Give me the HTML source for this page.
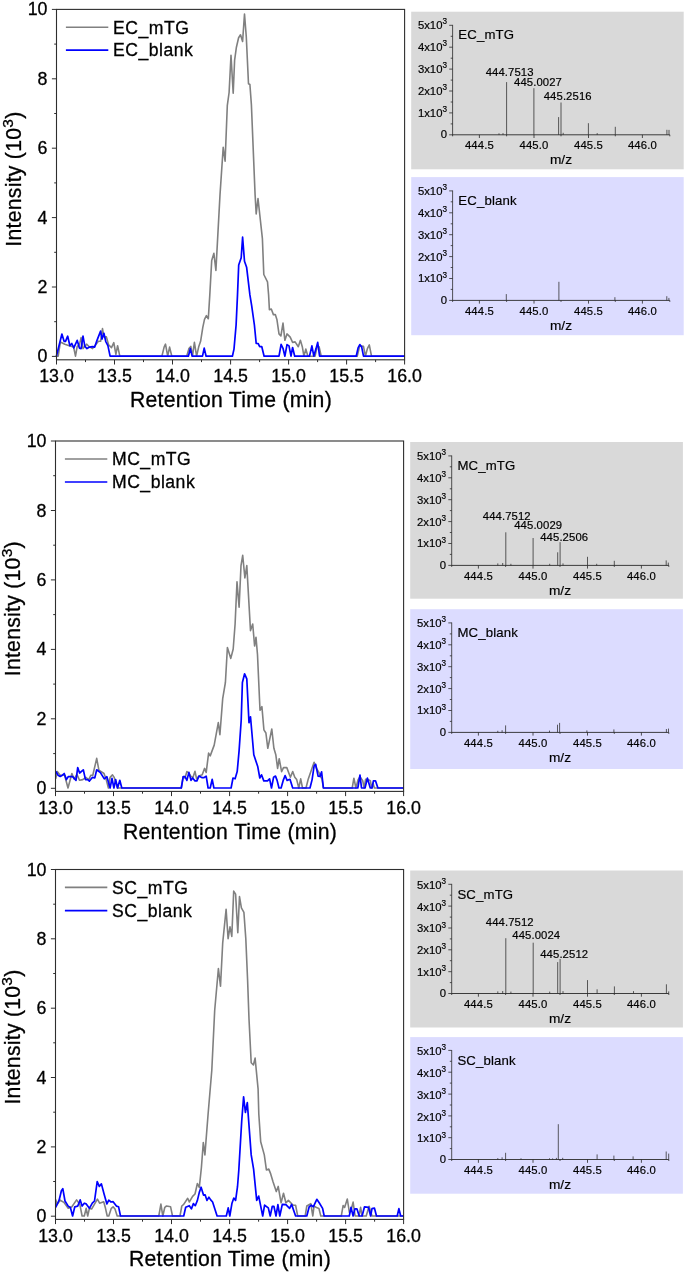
<!DOCTYPE html>
<html><head><meta charset="utf-8"><title>chart</title>
<style>
html,body{margin:0;padding:0;background:#fff;}
body{width:685px;height:1273px;overflow:hidden;}
svg{display:block;will-change:transform;}
svg text{font-family:"Liberation Sans", sans-serif;fill:#000;stroke:#000;stroke-width:0.3px;}
svg text.s{stroke-width:0.18px;}
</style></head><body>
<svg width="685" height="1273" viewBox="0 0 685 1273">
<rect x="0" y="0" width="685" height="1273" fill="#ffffff"/>
<polyline points="56.4,356.2 58.2,356.2 60.4,342.0 64.8,344.2 69.2,345.7 73.6,347.1 75.5,356.2 77.2,346.4 79.4,344.9 81.1,337.6 83.0,348.6 86.7,344.2 88.9,346.4 92.5,348.6 95.5,344.9 98.4,341.3 100.6,341.3 102.5,328.6 103.9,336.9 106.4,336.9 108.6,344.9 111.5,347.6 113.8,342.7 115.9,354.4 117.6,345.7 119.8,356.2 161.9,356.2 164.1,347.1 165.5,344.2 167.7,356.2 169.6,347.1 171.8,356.2 186.7,356.2 188.9,348.6 190.8,346.4 192.5,356.2 194.4,342.3 196.6,356.2 198.8,346.4 200.6,341.3 202.8,327.4 204.5,319.4 206.4,315.7 208.3,318.7 209.8,294.9 211.7,260.6 213.9,253.3 215.9,270.5 220.0,194.9 223.2,147.3 225.1,161.2 227.3,105.7 229.1,92.5 231.0,55.3 233.2,93.2 234.6,60.4 236.4,47.2 238.6,37.7 240.5,34.8 242.6,41.4 244.5,14.0 246.3,37.0 248.5,83.7 249.9,84.5 251.4,104.9 255.1,194.9 256.2,213.9 258.0,198.5 262.4,238.7 263.8,274.5 267.5,281.8 268.6,294.9 269.4,309.8 271.3,309.0 273.4,314.6 275.3,314.6 276.9,319.4 279.0,333.9 280.9,336.0 283.0,323.1 284.9,340.3 287.0,333.9 290.2,337.1 292.6,342.4 295.1,341.9 298.3,346.7 300.4,340.3 302.3,346.7 303.9,356.2 305.8,349.1 307.9,356.2 315.1,356.2 317.1,346.7 319.1,346.7 321.2,356.2 357.2,356.2 359.7,345.9 363.5,346.4 365.4,356.2 367.4,348.6 369.3,344.9 371.5,356.2 405.0,356.2" fill="none" stroke="#808080" stroke-width="1.6" stroke-linejoin="round" stroke-linecap="butt"/>
<polyline points="56.4,356.2 61.9,334.0 64.1,341.3 65.5,341.3 67.7,336.2 69.9,345.7 71.8,343.5 73.8,347.9 77.2,340.3 79.4,348.1 81.1,348.6 83.0,336.2 84.9,346.4 87.0,348.6 89.6,347.1 92.5,346.7 94.7,347.1 96.9,340.6 100.6,331.1 102.0,339.1 103.9,333.3 105.7,341.3 107.9,345.7 110.1,356.2 188.4,356.2 190.3,348.6 192.2,356.2 202.5,356.2 204.2,348.1 206.1,356.2 232.4,356.2 234.0,349.1 236.1,325.0 237.5,294.9 238.7,265.0 241.2,257.7 242.6,237.2 244.5,261.3 246.6,267.2 249.9,294.9 251.7,305.8 254.4,325.0 256.2,343.5 258.1,343.5 259.7,346.7 261.8,346.7 264.1,356.2 279.0,356.2 281.1,344.3 283.0,348.3 284.9,356.2 287.0,344.6 289.0,345.9 291.0,356.2 292.6,347.5 294.7,356.2 309.5,356.2 311.9,345.9 313.8,356.2 315.9,349.1 317.7,342.4 319.6,356.2 356.2,356.2 358.1,347.9 359.8,344.6 361.7,347.1 363.5,356.2 405.0,356.2" fill="none" stroke="#0000ff" stroke-width="1.7" stroke-linejoin="round" stroke-linecap="butt"/>
<rect x="56.5" y="9.4" width="348.1" height="350.4" fill="none" stroke="#2e2e2e" stroke-width="1.1"/>
<line x1="51.9" y1="356.4" x2="56.5" y2="356.4" stroke="#2e2e2e" stroke-width="1"/>
<text x="47.5" y="362.4" font-size="17.8" text-anchor="end">0</text>
<line x1="54.2" y1="321.7" x2="56.5" y2="321.7" stroke="#2e2e2e" stroke-width="1"/>
<line x1="51.9" y1="287.0" x2="56.5" y2="287.0" stroke="#2e2e2e" stroke-width="1"/>
<text x="47.5" y="293.0" font-size="17.8" text-anchor="end">2</text>
<line x1="54.2" y1="252.3" x2="56.5" y2="252.3" stroke="#2e2e2e" stroke-width="1"/>
<line x1="51.9" y1="217.6" x2="56.5" y2="217.6" stroke="#2e2e2e" stroke-width="1"/>
<text x="47.5" y="223.6" font-size="17.8" text-anchor="end">4</text>
<line x1="54.2" y1="182.9" x2="56.5" y2="182.9" stroke="#2e2e2e" stroke-width="1"/>
<line x1="51.9" y1="148.2" x2="56.5" y2="148.2" stroke="#2e2e2e" stroke-width="1"/>
<text x="47.5" y="154.2" font-size="17.8" text-anchor="end">6</text>
<line x1="54.2" y1="113.5" x2="56.5" y2="113.5" stroke="#2e2e2e" stroke-width="1"/>
<line x1="51.9" y1="78.8" x2="56.5" y2="78.8" stroke="#2e2e2e" stroke-width="1"/>
<text x="47.5" y="84.8" font-size="17.8" text-anchor="end">8</text>
<line x1="54.2" y1="44.1" x2="56.5" y2="44.1" stroke="#2e2e2e" stroke-width="1"/>
<line x1="51.9" y1="9.4" x2="56.5" y2="9.4" stroke="#2e2e2e" stroke-width="1"/>
<text x="47.5" y="15.4" font-size="17.8" text-anchor="end">10</text>
<line x1="56.5" y1="359.8" x2="56.5" y2="364.5" stroke="#2e2e2e" stroke-width="1"/>
<text x="56.5" y="382.1" font-size="17.8" text-anchor="middle">13.0</text>
<line x1="85.5" y1="359.8" x2="85.5" y2="362.1" stroke="#2e2e2e" stroke-width="1"/>
<line x1="114.5" y1="359.8" x2="114.5" y2="364.5" stroke="#2e2e2e" stroke-width="1"/>
<text x="114.5" y="382.1" font-size="17.8" text-anchor="middle">13.5</text>
<line x1="143.5" y1="359.8" x2="143.5" y2="362.1" stroke="#2e2e2e" stroke-width="1"/>
<line x1="172.5" y1="359.8" x2="172.5" y2="364.5" stroke="#2e2e2e" stroke-width="1"/>
<text x="172.5" y="382.1" font-size="17.8" text-anchor="middle">14.0</text>
<line x1="201.5" y1="359.8" x2="201.5" y2="362.1" stroke="#2e2e2e" stroke-width="1"/>
<line x1="230.6" y1="359.8" x2="230.6" y2="364.5" stroke="#2e2e2e" stroke-width="1"/>
<text x="230.6" y="382.1" font-size="17.8" text-anchor="middle">14.5</text>
<line x1="259.6" y1="359.8" x2="259.6" y2="362.1" stroke="#2e2e2e" stroke-width="1"/>
<line x1="288.6" y1="359.8" x2="288.6" y2="364.5" stroke="#2e2e2e" stroke-width="1"/>
<text x="288.6" y="382.1" font-size="17.8" text-anchor="middle">15.0</text>
<line x1="317.6" y1="359.8" x2="317.6" y2="362.1" stroke="#2e2e2e" stroke-width="1"/>
<line x1="346.6" y1="359.8" x2="346.6" y2="364.5" stroke="#2e2e2e" stroke-width="1"/>
<text x="346.6" y="382.1" font-size="17.8" text-anchor="middle">15.5</text>
<line x1="375.6" y1="359.8" x2="375.6" y2="362.1" stroke="#2e2e2e" stroke-width="1"/>
<line x1="404.6" y1="359.8" x2="404.6" y2="364.5" stroke="#2e2e2e" stroke-width="1"/>
<text x="404.6" y="382.1" font-size="17.8" text-anchor="middle">16.0</text>
<text x="231.0" y="406.8" font-size="21.2" letter-spacing="0.27" text-anchor="middle">Retention Time (min)</text>
<text transform="translate(20.9,179.1) rotate(-90)" font-size="21.2" letter-spacing="0.27" text-anchor="middle">Intensity (10<tspan font-size="15.5" dy="-8.3">3</tspan><tspan dy="8.3">)</tspan></text>
<line x1="65.9" y1="27.2" x2="108.3" y2="27.2" stroke="#808080" stroke-width="1.6"/>
<line x1="65.9" y1="50.2" x2="108.3" y2="50.2" stroke="#0000ff" stroke-width="1.7"/>
<text x="113.0" y="33.6" font-size="17.6" letter-spacing="0.5">EC_mTG</text>
<text x="113.0" y="56.1" font-size="17.6" letter-spacing="0.5">EC_blank</text>
<polyline points="55.7,778.9 57.3,771.6 60.2,775.2 64.6,775.2 68.0,788.0 71.9,773.5 74.1,778.9 77.0,774.5 79.6,780.3 82.8,779.6 85.8,777.4 88.7,779.6 90.9,775.2 92.8,775.2 96.7,758.4 98.9,770.1 104.0,773.5 106.2,779.6 108.4,788.0 110.1,777.4 112.5,774.9 114.2,777.4 117.4,788.0 181.3,788.0 183.2,776.7 185.0,778.0 186.9,771.6 188.9,773.2 191.0,776.4 193.0,777.2 195.0,771.3 196.6,778.8 199.0,776.1 202.2,774.8 204.6,768.4 206.2,772.4 208.6,753.1 210.2,755.9 214.2,745.1 218.3,722.6 219.9,734.7 222.7,698.6 225.4,682.5 227.4,647.5 230.8,658.4 233.2,649.0 235.1,624.0 237.0,581.7 239.1,607.2 241.0,565.6 242.7,555.4 244.9,578.0 246.8,565.6 250.5,630.6 252.7,624.0 254.6,646.0 256.0,637.2 257.5,654.8 260.0,710.3 261.9,706.6 263.9,729.8 265.9,733.0 267.8,748.3 271.8,729.0 273.9,748.3 275.8,754.7 277.6,768.4 279.2,758.7 281.6,771.6 283.5,767.6 286.8,767.6 290.4,777.2 292.7,771.6 294.8,777.2 296.7,779.6 298.8,788.0 300.7,778.8 302.5,788.0 306.0,788.0 308.1,779.6 314.1,762.3 316.5,768.4 318.9,772.4 320.5,776.4 322.0,779.2 323.4,788.0 352.2,788.0 353.9,778.2 355.9,788.0 358.0,780.0 360.0,776.7 362.7,780.6 364.1,788.0 365.6,779.4 367.4,779.2 370.3,780.6 371.8,788.0 373.0,783.2 374.4,788.0 403.7,788.0" fill="none" stroke="#808080" stroke-width="1.6" stroke-linejoin="round" stroke-linecap="butt"/>
<polyline points="55.7,771.1 58.0,775.2 60.2,776.4 62.4,775.2 64.2,773.5 66.4,779.6 68.2,776.7 72.6,776.7 76.0,780.3 77.7,767.6 79.6,773.0 83.3,769.8 85.5,779.6 87.7,779.6 89.4,781.1 92.3,777.4 94.8,777.9 96.7,769.8 100.4,772.6 104.3,778.9 106.9,776.7 110.1,788.0 112.0,778.4 113.9,788.0 115.7,779.6 117.6,788.0 119.8,780.3 121.8,788.0 181.3,788.0 183.2,776.7 185.0,776.7 186.9,780.4 188.9,772.4 191.0,780.4 192.6,778.0 195.0,780.9 196.9,780.9 199.0,776.1 202.2,777.7 203.8,777.7 206.2,776.1 208.1,788.0 210.2,788.0 212.2,779.3 213.9,788.0 231.1,788.0 233.0,778.0 235.1,778.8 237.2,771.6 239.1,750.7 241.2,720.2 242.4,682.5 244.6,673.8 246.8,678.9 249.0,722.7 250.5,716.8 253.8,754.7 257.8,766.8 259.8,778.0 261.5,774.8 263.8,780.9 267.5,780.9 269.6,778.8 271.5,788.0 273.6,777.2 275.5,776.1 277.1,780.4 279.0,788.0 281.1,788.0 283.2,780.4 285.1,775.6 287.1,780.4 290.0,779.3 292.7,788.0 310.0,788.0 312.1,779.6 314.1,766.0 315.7,764.4 318.1,776.1 320.0,776.4 321.6,771.9 323.4,788.0 357.8,788.0 360.0,775.0 361.5,788.0 365.0,788.0 367.4,778.2 370.3,788.0 372.0,788.0 373.4,780.8 375.5,780.8 377.9,788.0 403.7,788.0" fill="none" stroke="#0000ff" stroke-width="1.7" stroke-linejoin="round" stroke-linecap="butt"/>
<rect x="55.5" y="441.0" width="348.1" height="350.4" fill="none" stroke="#2e2e2e" stroke-width="1.1"/>
<line x1="50.9" y1="788.3" x2="55.5" y2="788.3" stroke="#2e2e2e" stroke-width="1"/>
<text x="46.5" y="794.3" font-size="17.8" text-anchor="end">0</text>
<line x1="53.2" y1="753.6" x2="55.5" y2="753.6" stroke="#2e2e2e" stroke-width="1"/>
<line x1="50.9" y1="718.8" x2="55.5" y2="718.8" stroke="#2e2e2e" stroke-width="1"/>
<text x="46.5" y="724.8" font-size="17.8" text-anchor="end">2</text>
<line x1="53.2" y1="684.1" x2="55.5" y2="684.1" stroke="#2e2e2e" stroke-width="1"/>
<line x1="50.9" y1="649.4" x2="55.5" y2="649.4" stroke="#2e2e2e" stroke-width="1"/>
<text x="46.5" y="655.4" font-size="17.8" text-anchor="end">4</text>
<line x1="53.2" y1="614.6" x2="55.5" y2="614.6" stroke="#2e2e2e" stroke-width="1"/>
<line x1="50.9" y1="579.9" x2="55.5" y2="579.9" stroke="#2e2e2e" stroke-width="1"/>
<text x="46.5" y="585.9" font-size="17.8" text-anchor="end">6</text>
<line x1="53.2" y1="545.2" x2="55.5" y2="545.2" stroke="#2e2e2e" stroke-width="1"/>
<line x1="50.9" y1="510.5" x2="55.5" y2="510.5" stroke="#2e2e2e" stroke-width="1"/>
<text x="46.5" y="516.5" font-size="17.8" text-anchor="end">8</text>
<line x1="53.2" y1="475.7" x2="55.5" y2="475.7" stroke="#2e2e2e" stroke-width="1"/>
<line x1="50.9" y1="441.0" x2="55.5" y2="441.0" stroke="#2e2e2e" stroke-width="1"/>
<text x="46.5" y="447.0" font-size="17.8" text-anchor="end">10</text>
<line x1="55.5" y1="791.4" x2="55.5" y2="796.1" stroke="#2e2e2e" stroke-width="1"/>
<text x="55.5" y="813.7" font-size="17.8" text-anchor="middle">13.0</text>
<line x1="84.5" y1="791.4" x2="84.5" y2="793.7" stroke="#2e2e2e" stroke-width="1"/>
<line x1="113.5" y1="791.4" x2="113.5" y2="796.1" stroke="#2e2e2e" stroke-width="1"/>
<text x="113.5" y="813.7" font-size="17.8" text-anchor="middle">13.5</text>
<line x1="142.5" y1="791.4" x2="142.5" y2="793.7" stroke="#2e2e2e" stroke-width="1"/>
<line x1="171.5" y1="791.4" x2="171.5" y2="796.1" stroke="#2e2e2e" stroke-width="1"/>
<text x="171.5" y="813.7" font-size="17.8" text-anchor="middle">14.0</text>
<line x1="200.5" y1="791.4" x2="200.5" y2="793.7" stroke="#2e2e2e" stroke-width="1"/>
<line x1="229.6" y1="791.4" x2="229.6" y2="796.1" stroke="#2e2e2e" stroke-width="1"/>
<text x="229.6" y="813.7" font-size="17.8" text-anchor="middle">14.5</text>
<line x1="258.6" y1="791.4" x2="258.6" y2="793.7" stroke="#2e2e2e" stroke-width="1"/>
<line x1="287.6" y1="791.4" x2="287.6" y2="796.1" stroke="#2e2e2e" stroke-width="1"/>
<text x="287.6" y="813.7" font-size="17.8" text-anchor="middle">15.0</text>
<line x1="316.6" y1="791.4" x2="316.6" y2="793.7" stroke="#2e2e2e" stroke-width="1"/>
<line x1="345.6" y1="791.4" x2="345.6" y2="796.1" stroke="#2e2e2e" stroke-width="1"/>
<text x="345.6" y="813.7" font-size="17.8" text-anchor="middle">15.5</text>
<line x1="374.6" y1="791.4" x2="374.6" y2="793.7" stroke="#2e2e2e" stroke-width="1"/>
<line x1="403.6" y1="791.4" x2="403.6" y2="796.1" stroke="#2e2e2e" stroke-width="1"/>
<text x="403.6" y="813.7" font-size="17.8" text-anchor="middle">16.0</text>
<text x="230.0" y="839.4" font-size="21.2" letter-spacing="0.27" text-anchor="middle">Rentention Time (min)</text>
<text transform="translate(20.4,608.7) rotate(-90)" font-size="21.2" letter-spacing="0.27" text-anchor="middle">Intensity (10<tspan font-size="15.5" dy="-8.3">3</tspan><tspan dy="8.3">)</tspan></text>
<line x1="64.9" y1="459.0" x2="107.3" y2="459.0" stroke="#808080" stroke-width="1.6"/>
<line x1="64.9" y1="482.0" x2="107.3" y2="482.0" stroke="#0000ff" stroke-width="1.7"/>
<text x="112.0" y="465.4" font-size="17.6" letter-spacing="0.5">MC_mTG</text>
<text x="112.0" y="487.9" font-size="17.6" letter-spacing="0.5">MC_blank</text>
<polyline points="55.7,1199.5 57.0,1204.6 60.2,1200.2 63.9,1202.4 68.2,1208.3 71.9,1206.8 76.6,1199.9 79.9,1204.6 82.1,1216.0 84.3,1216.0 86.2,1208.3 87.7,1216.0 89.4,1208.3 91.6,1209.0 93.8,1205.3 97.4,1199.1 99.6,1203.2 103.7,1201.7 105.5,1208.3 107.2,1216.0 108.8,1216.0 111.3,1208.3 113.1,1206.8 115.0,1209.0 117.2,1216.0 158.8,1216.0 160.9,1204.1 162.8,1216.0 164.8,1207.3 166.5,1206.0 170.6,1206.8 172.5,1216.0 180.0,1216.0 181.8,1206.0 183.7,1204.4 187.7,1198.3 189.3,1202.0 192.6,1196.4 195.0,1194.0 197.4,1183.5 199.3,1187.5 201.4,1167.5 203.3,1142.5 204.9,1154.9 208.1,1114.0 211.8,1070.2 214.7,1010.2 218.4,968.5 220.5,986.1 222.7,943.0 226.1,909.4 228.1,938.6 230.0,926.9 231.8,936.4 233.7,891.1 235.6,894.1 237.8,932.8 239.5,896.6 241.4,907.9 243.9,912.3 245.8,938.6 247.6,980.2 249.0,1019.0 251.2,1062.8 253.4,1065.0 255.1,1058.1 258.1,1089.2 258.8,1114.0 260.7,1141.7 264.3,1154.9 266.4,1169.9 268.8,1169.1 270.7,1173.9 273.1,1181.9 276.3,1191.6 278.2,1186.4 281.1,1202.8 283.5,1193.2 285.9,1202.8 288.4,1200.4 293.2,1205.2 295.6,1205.2 297.7,1216.0 305.2,1216.0 306.8,1206.0 310.8,1203.6 312.8,1216.0 314.1,1206.0 316.5,1207.6 318.9,1208.4 320.8,1216.0 341.3,1216.0 343.1,1205.6 344.6,1207.4 347.3,1199.0 349.4,1212.5 351.3,1209.3 353.1,1202.1 355.1,1216.0 359.0,1216.0 360.6,1207.4 362.1,1216.0 366.2,1216.0 369.1,1206.2 372.0,1216.0 403.6,1216.0" fill="none" stroke="#808080" stroke-width="1.6" stroke-linejoin="round" stroke-linecap="butt"/>
<polyline points="55.7,1207.5 59.1,1200.2 61.4,1190.7 62.8,1188.6 65.0,1201.0 68.2,1206.1 70.4,1207.5 72.6,1216.0 74.8,1206.8 77.7,1206.1 80.2,1199.9 82.1,1206.1 84.3,1203.2 86.2,1203.9 89.4,1208.3 92.3,1203.2 94.5,1201.0 97.2,1181.6 99.3,1186.4 101.4,1183.9 104.0,1193.7 106.9,1203.9 108.8,1200.2 111.0,1202.0 113.1,1201.7 116.4,1206.1 118.6,1206.8 120.5,1216.0 183.7,1216.0 185.7,1207.3 189.3,1205.7 191.4,1208.9 193.4,1203.6 195.3,1205.7 197.4,1200.4 199.3,1192.4 201.1,1187.2 203.5,1195.1 205.1,1194.8 207.0,1200.4 208.9,1197.2 210.7,1199.9 212.6,1202.0 217.1,1216.0 226.3,1216.0 228.2,1207.9 229.8,1216.0 231.9,1203.6 233.8,1198.0 235.6,1200.4 237.5,1186.7 238.8,1170.2 241.7,1121.3 243.6,1096.8 245.4,1112.5 247.3,1102.6 251.2,1154.9 253.6,1169.1 256.7,1200.4 258.7,1196.1 262.7,1216.0 264.6,1205.2 268.3,1207.9 270.2,1216.0 272.3,1206.3 273.9,1206.3 276.0,1216.0 277.9,1204.7 279.8,1216.0 282.3,1204.4 285.9,1204.7 289.6,1208.4 291.6,1204.4 295.6,1216.0 306.8,1216.0 309.2,1206.8 311.3,1205.2 313.3,1206.8 316.8,1199.3 319.2,1202.8 322.6,1208.4 324.2,1216.0 349.3,1216.0 351.0,1207.4 353.1,1216.0 354.9,1208.8 356.9,1208.8 359.2,1216.0 362.1,1216.0 364.5,1206.8 368.5,1207.4 370.6,1216.0 372.0,1208.6 374.4,1208.0 376.5,1216.0 397.2,1216.0 398.9,1208.6 400.7,1216.0 403.6,1216.0" fill="none" stroke="#0000ff" stroke-width="1.7" stroke-linejoin="round" stroke-linecap="butt"/>
<rect x="55.5" y="869.5" width="348.1" height="349.9" fill="none" stroke="#2e2e2e" stroke-width="1.1"/>
<line x1="50.9" y1="1216.2" x2="55.5" y2="1216.2" stroke="#2e2e2e" stroke-width="1"/>
<text x="46.5" y="1222.2" font-size="17.8" text-anchor="end">0</text>
<line x1="53.2" y1="1181.5" x2="55.5" y2="1181.5" stroke="#2e2e2e" stroke-width="1"/>
<line x1="50.9" y1="1146.9" x2="55.5" y2="1146.9" stroke="#2e2e2e" stroke-width="1"/>
<text x="46.5" y="1152.9" font-size="17.8" text-anchor="end">2</text>
<line x1="53.2" y1="1112.2" x2="55.5" y2="1112.2" stroke="#2e2e2e" stroke-width="1"/>
<line x1="50.9" y1="1077.5" x2="55.5" y2="1077.5" stroke="#2e2e2e" stroke-width="1"/>
<text x="46.5" y="1083.5" font-size="17.8" text-anchor="end">4</text>
<line x1="53.2" y1="1042.8" x2="55.5" y2="1042.8" stroke="#2e2e2e" stroke-width="1"/>
<line x1="50.9" y1="1008.2" x2="55.5" y2="1008.2" stroke="#2e2e2e" stroke-width="1"/>
<text x="46.5" y="1014.2" font-size="17.8" text-anchor="end">6</text>
<line x1="53.2" y1="973.5" x2="55.5" y2="973.5" stroke="#2e2e2e" stroke-width="1"/>
<line x1="50.9" y1="938.8" x2="55.5" y2="938.8" stroke="#2e2e2e" stroke-width="1"/>
<text x="46.5" y="944.8" font-size="17.8" text-anchor="end">8</text>
<line x1="53.2" y1="904.2" x2="55.5" y2="904.2" stroke="#2e2e2e" stroke-width="1"/>
<line x1="50.9" y1="869.5" x2="55.5" y2="869.5" stroke="#2e2e2e" stroke-width="1"/>
<text x="46.5" y="875.5" font-size="17.8" text-anchor="end">10</text>
<line x1="55.5" y1="1219.4" x2="55.5" y2="1224.1" stroke="#2e2e2e" stroke-width="1"/>
<text x="55.5" y="1241.7" font-size="17.8" text-anchor="middle">13.0</text>
<line x1="84.5" y1="1219.4" x2="84.5" y2="1221.7" stroke="#2e2e2e" stroke-width="1"/>
<line x1="113.5" y1="1219.4" x2="113.5" y2="1224.1" stroke="#2e2e2e" stroke-width="1"/>
<text x="113.5" y="1241.7" font-size="17.8" text-anchor="middle">13.5</text>
<line x1="142.5" y1="1219.4" x2="142.5" y2="1221.7" stroke="#2e2e2e" stroke-width="1"/>
<line x1="171.5" y1="1219.4" x2="171.5" y2="1224.1" stroke="#2e2e2e" stroke-width="1"/>
<text x="171.5" y="1241.7" font-size="17.8" text-anchor="middle">14.0</text>
<line x1="200.5" y1="1219.4" x2="200.5" y2="1221.7" stroke="#2e2e2e" stroke-width="1"/>
<line x1="229.6" y1="1219.4" x2="229.6" y2="1224.1" stroke="#2e2e2e" stroke-width="1"/>
<text x="229.6" y="1241.7" font-size="17.8" text-anchor="middle">14.5</text>
<line x1="258.6" y1="1219.4" x2="258.6" y2="1221.7" stroke="#2e2e2e" stroke-width="1"/>
<line x1="287.6" y1="1219.4" x2="287.6" y2="1224.1" stroke="#2e2e2e" stroke-width="1"/>
<text x="287.6" y="1241.7" font-size="17.8" text-anchor="middle">15.0</text>
<line x1="316.6" y1="1219.4" x2="316.6" y2="1221.7" stroke="#2e2e2e" stroke-width="1"/>
<line x1="345.6" y1="1219.4" x2="345.6" y2="1224.1" stroke="#2e2e2e" stroke-width="1"/>
<text x="345.6" y="1241.7" font-size="17.8" text-anchor="middle">15.5</text>
<line x1="374.6" y1="1219.4" x2="374.6" y2="1221.7" stroke="#2e2e2e" stroke-width="1"/>
<line x1="403.6" y1="1219.4" x2="403.6" y2="1224.1" stroke="#2e2e2e" stroke-width="1"/>
<text x="403.6" y="1241.7" font-size="17.8" text-anchor="middle">16.0</text>
<text x="230.0" y="1266.4" font-size="21.2" letter-spacing="0.27" text-anchor="middle">Retention Time (min)</text>
<text transform="translate(20.4,1037.0) rotate(-90)" font-size="21.2" letter-spacing="0.27" text-anchor="middle">Intensity (10<tspan font-size="15.5" dy="-8.3">3</tspan><tspan dy="8.3">)</tspan></text>
<line x1="64.9" y1="887.4" x2="107.3" y2="887.4" stroke="#808080" stroke-width="1.6"/>
<line x1="64.9" y1="910.6" x2="107.3" y2="910.6" stroke="#0000ff" stroke-width="1.7"/>
<text x="112.0" y="893.8" font-size="17.6" letter-spacing="0.5">SC_mTG</text>
<text x="112.0" y="916.5" font-size="17.6" letter-spacing="0.5">SC_blank</text>
<rect x="411.2" y="11.7" width="272.5" height="157.6" fill="#d9d9d9"/>
<line x1="452.6" y1="24.9" x2="452.6" y2="135.2" stroke="#2a2a2a" stroke-width="0.8"/>
<line x1="452.6" y1="134.8" x2="669.8" y2="134.8" stroke="#2a2a2a" stroke-width="0.9"/>
<line x1="449.2" y1="134.8" x2="452.6" y2="134.8" stroke="#2a2a2a" stroke-width="0.8"/>
<text class="s" x="447.0" y="138.0" font-size="11.3" text-anchor="end">0</text>
<line x1="450.7" y1="123.9" x2="452.6" y2="123.9" stroke="#2a2a2a" stroke-width="0.8"/>
<line x1="449.2" y1="112.9" x2="452.6" y2="112.9" stroke="#2a2a2a" stroke-width="0.8"/>
<text class="s" x="447.0" y="116.8" font-size="11.3" text-anchor="end">1x10<tspan font-size="8.2" dy="-4.9">3</tspan></text>
<line x1="450.7" y1="102.0" x2="452.6" y2="102.0" stroke="#2a2a2a" stroke-width="0.8"/>
<line x1="449.2" y1="91.0" x2="452.6" y2="91.0" stroke="#2a2a2a" stroke-width="0.8"/>
<text class="s" x="447.0" y="95.0" font-size="11.3" text-anchor="end">2x10<tspan font-size="8.2" dy="-4.9">3</tspan></text>
<line x1="450.7" y1="80.1" x2="452.6" y2="80.1" stroke="#2a2a2a" stroke-width="0.8"/>
<line x1="449.2" y1="69.1" x2="452.6" y2="69.1" stroke="#2a2a2a" stroke-width="0.8"/>
<text class="s" x="447.0" y="73.0" font-size="11.3" text-anchor="end">3x10<tspan font-size="8.2" dy="-4.9">3</tspan></text>
<line x1="450.7" y1="58.2" x2="452.6" y2="58.2" stroke="#2a2a2a" stroke-width="0.8"/>
<line x1="449.2" y1="47.2" x2="452.6" y2="47.2" stroke="#2a2a2a" stroke-width="0.8"/>
<text class="s" x="447.0" y="51.1" font-size="11.3" text-anchor="end">4x10<tspan font-size="8.2" dy="-4.9">3</tspan></text>
<line x1="450.7" y1="36.3" x2="452.6" y2="36.3" stroke="#2a2a2a" stroke-width="0.8"/>
<line x1="449.2" y1="25.3" x2="452.6" y2="25.3" stroke="#2a2a2a" stroke-width="0.8"/>
<text class="s" x="447.0" y="29.2" font-size="11.3" text-anchor="end">5x10<tspan font-size="8.2" dy="-4.9">3</tspan></text>
<line x1="452.6" y1="134.8" x2="452.6" y2="136.3" stroke="#2a2a2a" stroke-width="0.8"/>
<line x1="506.6" y1="134.8" x2="506.6" y2="136.3" stroke="#2a2a2a" stroke-width="0.8"/>
<line x1="561.0" y1="134.8" x2="561.0" y2="136.3" stroke="#2a2a2a" stroke-width="0.8"/>
<line x1="615.3" y1="134.8" x2="615.3" y2="136.3" stroke="#2a2a2a" stroke-width="0.8"/>
<line x1="669.8" y1="134.8" x2="669.8" y2="136.3" stroke="#2a2a2a" stroke-width="0.8"/>
<line x1="479.4" y1="134.8" x2="479.4" y2="138.0" stroke="#2a2a2a" stroke-width="0.8"/>
<text class="s" x="479.4" y="149.2" font-size="11.3" letter-spacing="0.15" text-anchor="middle">444.5</text>
<line x1="534.0" y1="134.8" x2="534.0" y2="138.0" stroke="#2a2a2a" stroke-width="0.8"/>
<text class="s" x="534.0" y="149.2" font-size="11.3" letter-spacing="0.15" text-anchor="middle">445.0</text>
<line x1="588.5" y1="134.8" x2="588.5" y2="138.0" stroke="#2a2a2a" stroke-width="0.8"/>
<text class="s" x="588.5" y="149.2" font-size="11.3" letter-spacing="0.15" text-anchor="middle">445.5</text>
<line x1="642.4" y1="134.8" x2="642.4" y2="138.0" stroke="#2a2a2a" stroke-width="0.8"/>
<text class="s" x="642.4" y="149.2" font-size="11.3" letter-spacing="0.15" text-anchor="middle">446.0</text>
<text class="s" x="561.0" y="164.4" font-size="13.7" text-anchor="middle">m/z</text>
<text class="s" x="458.3" y="39.2" font-size="13.2" letter-spacing="0.15">EC_mTG</text>
<line x1="506.6" y1="82.1" x2="506.6" y2="134.8" stroke="#2a2a2a" stroke-width="0.75"/>
<line x1="533.9" y1="88.2" x2="533.9" y2="134.8" stroke="#2a2a2a" stroke-width="0.75"/>
<line x1="561.0" y1="102.5" x2="561.0" y2="134.8" stroke="#2a2a2a" stroke-width="0.75"/>
<line x1="558.6" y1="117.1" x2="558.6" y2="134.8" stroke="#2a2a2a" stroke-width="0.75"/>
<line x1="588.4" y1="123.2" x2="588.4" y2="134.8" stroke="#2a2a2a" stroke-width="0.75"/>
<line x1="615.3" y1="126.8" x2="615.3" y2="134.8" stroke="#2a2a2a" stroke-width="0.75"/>
<line x1="666.9" y1="129.8" x2="666.9" y2="134.8" stroke="#2a2a2a" stroke-width="0.75"/>
<line x1="669.0" y1="129.9" x2="669.0" y2="134.8" stroke="#2a2a2a" stroke-width="0.75"/>
<line x1="563.2" y1="132.8" x2="563.2" y2="134.8" stroke="#2a2a2a" stroke-width="0.75"/>
<line x1="597.2" y1="133.1" x2="597.2" y2="134.8" stroke="#2a2a2a" stroke-width="0.75"/>
<line x1="499.0" y1="133.3" x2="499.0" y2="134.8" stroke="#2a2a2a" stroke-width="0.75"/>
<line x1="503.0" y1="133.1" x2="503.0" y2="134.8" stroke="#2a2a2a" stroke-width="0.75"/>
<text class="s" x="509.6" y="75.9" font-size="11.3" letter-spacing="0.1" text-anchor="middle">444.7513</text>
<text class="s" x="538.0" y="86.4" font-size="11.3" letter-spacing="0.1" text-anchor="middle">445.0027</text>
<text class="s" x="567.7" y="99.9" font-size="11.3" letter-spacing="0.1" text-anchor="middle">445.2516</text>
<rect x="411.2" y="177.1" width="272.5" height="158.1" fill="#dcdcff"/>
<line x1="452.6" y1="190.5" x2="452.6" y2="300.8" stroke="#2a2a2a" stroke-width="0.8"/>
<line x1="452.6" y1="300.4" x2="669.8" y2="300.4" stroke="#2a2a2a" stroke-width="0.9"/>
<line x1="449.2" y1="300.4" x2="452.6" y2="300.4" stroke="#2a2a2a" stroke-width="0.8"/>
<text class="s" x="447.0" y="303.6" font-size="11.3" text-anchor="end">0</text>
<line x1="450.7" y1="289.4" x2="452.6" y2="289.4" stroke="#2a2a2a" stroke-width="0.8"/>
<line x1="449.2" y1="278.5" x2="452.6" y2="278.5" stroke="#2a2a2a" stroke-width="0.8"/>
<text class="s" x="447.0" y="282.4" font-size="11.3" text-anchor="end">1x10<tspan font-size="8.2" dy="-4.9">3</tspan></text>
<line x1="450.7" y1="267.5" x2="452.6" y2="267.5" stroke="#2a2a2a" stroke-width="0.8"/>
<line x1="449.2" y1="256.6" x2="452.6" y2="256.6" stroke="#2a2a2a" stroke-width="0.8"/>
<text class="s" x="447.0" y="260.5" font-size="11.3" text-anchor="end">2x10<tspan font-size="8.2" dy="-4.9">3</tspan></text>
<line x1="450.7" y1="245.6" x2="452.6" y2="245.6" stroke="#2a2a2a" stroke-width="0.8"/>
<line x1="449.2" y1="234.7" x2="452.6" y2="234.7" stroke="#2a2a2a" stroke-width="0.8"/>
<text class="s" x="447.0" y="238.6" font-size="11.3" text-anchor="end">3x10<tspan font-size="8.2" dy="-4.9">3</tspan></text>
<line x1="450.7" y1="223.8" x2="452.6" y2="223.8" stroke="#2a2a2a" stroke-width="0.8"/>
<line x1="449.2" y1="212.8" x2="452.6" y2="212.8" stroke="#2a2a2a" stroke-width="0.8"/>
<text class="s" x="447.0" y="216.7" font-size="11.3" text-anchor="end">4x10<tspan font-size="8.2" dy="-4.9">3</tspan></text>
<line x1="450.7" y1="201.8" x2="452.6" y2="201.8" stroke="#2a2a2a" stroke-width="0.8"/>
<line x1="449.2" y1="190.9" x2="452.6" y2="190.9" stroke="#2a2a2a" stroke-width="0.8"/>
<text class="s" x="447.0" y="194.8" font-size="11.3" text-anchor="end">5x10<tspan font-size="8.2" dy="-4.9">3</tspan></text>
<line x1="452.6" y1="300.4" x2="452.6" y2="301.9" stroke="#2a2a2a" stroke-width="0.8"/>
<line x1="506.6" y1="300.4" x2="506.6" y2="301.9" stroke="#2a2a2a" stroke-width="0.8"/>
<line x1="561.0" y1="300.4" x2="561.0" y2="301.9" stroke="#2a2a2a" stroke-width="0.8"/>
<line x1="615.3" y1="300.4" x2="615.3" y2="301.9" stroke="#2a2a2a" stroke-width="0.8"/>
<line x1="669.8" y1="300.4" x2="669.8" y2="301.9" stroke="#2a2a2a" stroke-width="0.8"/>
<line x1="479.4" y1="300.4" x2="479.4" y2="303.6" stroke="#2a2a2a" stroke-width="0.8"/>
<text class="s" x="479.4" y="314.7" font-size="11.3" letter-spacing="0.15" text-anchor="middle">444.5</text>
<line x1="534.0" y1="300.4" x2="534.0" y2="303.6" stroke="#2a2a2a" stroke-width="0.8"/>
<text class="s" x="534.0" y="314.7" font-size="11.3" letter-spacing="0.15" text-anchor="middle">445.0</text>
<line x1="588.5" y1="300.4" x2="588.5" y2="303.6" stroke="#2a2a2a" stroke-width="0.8"/>
<text class="s" x="588.5" y="314.7" font-size="11.3" letter-spacing="0.15" text-anchor="middle">445.5</text>
<line x1="642.4" y1="300.4" x2="642.4" y2="303.6" stroke="#2a2a2a" stroke-width="0.8"/>
<text class="s" x="642.4" y="314.7" font-size="11.3" letter-spacing="0.15" text-anchor="middle">446.0</text>
<text class="s" x="561.0" y="330.0" font-size="13.7" text-anchor="middle">m/z</text>
<text class="s" x="458.3" y="204.8" font-size="13.2" letter-spacing="0.15">EC_blank</text>
<line x1="506.3" y1="294.1" x2="506.3" y2="300.4" stroke="#2a2a2a" stroke-width="0.75"/>
<line x1="558.9" y1="281.8" x2="558.9" y2="300.4" stroke="#2a2a2a" stroke-width="0.75"/>
<line x1="614.9" y1="297.2" x2="614.9" y2="300.4" stroke="#2a2a2a" stroke-width="0.75"/>
<line x1="666.8" y1="296.2" x2="666.8" y2="300.4" stroke="#2a2a2a" stroke-width="0.75"/>
<line x1="668.9" y1="297.9" x2="668.9" y2="300.4" stroke="#2a2a2a" stroke-width="0.75"/>
<rect x="410.2" y="442.0" width="272.7" height="156.7" fill="#d9d9d9"/>
<line x1="451.7" y1="455.5" x2="451.7" y2="565.8" stroke="#2a2a2a" stroke-width="0.8"/>
<line x1="451.7" y1="565.4" x2="668.8" y2="565.4" stroke="#2a2a2a" stroke-width="0.9"/>
<line x1="448.3" y1="565.4" x2="451.7" y2="565.4" stroke="#2a2a2a" stroke-width="0.8"/>
<text class="s" x="446.1" y="568.6" font-size="11.3" text-anchor="end">0</text>
<line x1="449.8" y1="554.4" x2="451.7" y2="554.4" stroke="#2a2a2a" stroke-width="0.8"/>
<line x1="448.3" y1="543.5" x2="451.7" y2="543.5" stroke="#2a2a2a" stroke-width="0.8"/>
<text class="s" x="446.1" y="547.4" font-size="11.3" text-anchor="end">1x10<tspan font-size="8.2" dy="-4.9">3</tspan></text>
<line x1="449.8" y1="532.5" x2="451.7" y2="532.5" stroke="#2a2a2a" stroke-width="0.8"/>
<line x1="448.3" y1="521.6" x2="451.7" y2="521.6" stroke="#2a2a2a" stroke-width="0.8"/>
<text class="s" x="446.1" y="525.5" font-size="11.3" text-anchor="end">2x10<tspan font-size="8.2" dy="-4.9">3</tspan></text>
<line x1="449.8" y1="510.6" x2="451.7" y2="510.6" stroke="#2a2a2a" stroke-width="0.8"/>
<line x1="448.3" y1="499.7" x2="451.7" y2="499.7" stroke="#2a2a2a" stroke-width="0.8"/>
<text class="s" x="446.1" y="503.6" font-size="11.3" text-anchor="end">3x10<tspan font-size="8.2" dy="-4.9">3</tspan></text>
<line x1="449.8" y1="488.8" x2="451.7" y2="488.8" stroke="#2a2a2a" stroke-width="0.8"/>
<line x1="448.3" y1="477.8" x2="451.7" y2="477.8" stroke="#2a2a2a" stroke-width="0.8"/>
<text class="s" x="446.1" y="481.7" font-size="11.3" text-anchor="end">4x10<tspan font-size="8.2" dy="-4.9">3</tspan></text>
<line x1="449.8" y1="466.8" x2="451.7" y2="466.8" stroke="#2a2a2a" stroke-width="0.8"/>
<line x1="448.3" y1="455.9" x2="451.7" y2="455.9" stroke="#2a2a2a" stroke-width="0.8"/>
<text class="s" x="446.1" y="459.8" font-size="11.3" text-anchor="end">5x10<tspan font-size="8.2" dy="-4.9">3</tspan></text>
<line x1="451.7" y1="565.4" x2="451.7" y2="566.9" stroke="#2a2a2a" stroke-width="0.8"/>
<line x1="505.6" y1="565.4" x2="505.6" y2="566.9" stroke="#2a2a2a" stroke-width="0.8"/>
<line x1="560.0" y1="565.4" x2="560.0" y2="566.9" stroke="#2a2a2a" stroke-width="0.8"/>
<line x1="614.3" y1="565.4" x2="614.3" y2="566.9" stroke="#2a2a2a" stroke-width="0.8"/>
<line x1="668.8" y1="565.4" x2="668.8" y2="566.9" stroke="#2a2a2a" stroke-width="0.8"/>
<line x1="478.4" y1="565.4" x2="478.4" y2="568.6" stroke="#2a2a2a" stroke-width="0.8"/>
<text class="s" x="478.4" y="579.7" font-size="11.3" letter-spacing="0.15" text-anchor="middle">444.5</text>
<line x1="533.0" y1="565.4" x2="533.0" y2="568.6" stroke="#2a2a2a" stroke-width="0.8"/>
<text class="s" x="533.0" y="579.7" font-size="11.3" letter-spacing="0.15" text-anchor="middle">445.0</text>
<line x1="587.5" y1="565.4" x2="587.5" y2="568.6" stroke="#2a2a2a" stroke-width="0.8"/>
<text class="s" x="587.5" y="579.7" font-size="11.3" letter-spacing="0.15" text-anchor="middle">445.5</text>
<line x1="641.4" y1="565.4" x2="641.4" y2="568.6" stroke="#2a2a2a" stroke-width="0.8"/>
<text class="s" x="641.4" y="579.7" font-size="11.3" letter-spacing="0.15" text-anchor="middle">446.0</text>
<text class="s" x="560.0" y="595.0" font-size="13.7" text-anchor="middle">m/z</text>
<text class="s" x="457.4" y="469.8" font-size="13.2" letter-spacing="0.15">MC_mTG</text>
<line x1="505.8" y1="532.3" x2="505.8" y2="565.4" stroke="#2a2a2a" stroke-width="0.75"/>
<line x1="533.1" y1="538.0" x2="533.1" y2="565.4" stroke="#2a2a2a" stroke-width="0.75"/>
<line x1="560.1" y1="542.1" x2="560.1" y2="565.4" stroke="#2a2a2a" stroke-width="0.75"/>
<line x1="557.7" y1="552.3" x2="557.7" y2="565.4" stroke="#2a2a2a" stroke-width="0.75"/>
<line x1="587.5" y1="556.8" x2="587.5" y2="565.4" stroke="#2a2a2a" stroke-width="0.75"/>
<line x1="614.3" y1="560.8" x2="614.3" y2="565.4" stroke="#2a2a2a" stroke-width="0.75"/>
<line x1="666.2" y1="560.4" x2="666.2" y2="565.4" stroke="#2a2a2a" stroke-width="0.75"/>
<line x1="668.3" y1="562.6" x2="668.3" y2="565.4" stroke="#2a2a2a" stroke-width="0.75"/>
<line x1="497.8" y1="563.4" x2="497.8" y2="565.4" stroke="#2a2a2a" stroke-width="0.75"/>
<line x1="502.7" y1="563.0" x2="502.7" y2="565.4" stroke="#2a2a2a" stroke-width="0.75"/>
<line x1="510.9" y1="563.8" x2="510.9" y2="565.4" stroke="#2a2a2a" stroke-width="0.75"/>
<line x1="549.7" y1="563.8" x2="549.7" y2="565.4" stroke="#2a2a2a" stroke-width="0.75"/>
<line x1="563.0" y1="563.4" x2="563.0" y2="565.4" stroke="#2a2a2a" stroke-width="0.75"/>
<line x1="596.7" y1="563.8" x2="596.7" y2="565.4" stroke="#2a2a2a" stroke-width="0.75"/>
<text class="s" x="506.8" y="519.8" font-size="11.3" letter-spacing="0.1" text-anchor="middle">444.7512</text>
<text class="s" x="538.2" y="529.4" font-size="11.3" letter-spacing="0.1" text-anchor="middle">445.0029</text>
<text class="s" x="564.2" y="540.9" font-size="11.3" letter-spacing="0.1" text-anchor="middle">445.2506</text>
<rect x="410.2" y="609.2" width="272.7" height="159.8" fill="#dcdcff"/>
<line x1="451.7" y1="622.5" x2="451.7" y2="732.8" stroke="#2a2a2a" stroke-width="0.8"/>
<line x1="451.7" y1="732.4" x2="668.8" y2="732.4" stroke="#2a2a2a" stroke-width="0.9"/>
<line x1="448.3" y1="732.4" x2="451.7" y2="732.4" stroke="#2a2a2a" stroke-width="0.8"/>
<text class="s" x="446.1" y="735.6" font-size="11.3" text-anchor="end">0</text>
<line x1="449.8" y1="721.4" x2="451.7" y2="721.4" stroke="#2a2a2a" stroke-width="0.8"/>
<line x1="448.3" y1="710.5" x2="451.7" y2="710.5" stroke="#2a2a2a" stroke-width="0.8"/>
<text class="s" x="446.1" y="714.4" font-size="11.3" text-anchor="end">1x10<tspan font-size="8.2" dy="-4.9">3</tspan></text>
<line x1="449.8" y1="699.5" x2="451.7" y2="699.5" stroke="#2a2a2a" stroke-width="0.8"/>
<line x1="448.3" y1="688.6" x2="451.7" y2="688.6" stroke="#2a2a2a" stroke-width="0.8"/>
<text class="s" x="446.1" y="692.5" font-size="11.3" text-anchor="end">2x10<tspan font-size="8.2" dy="-4.9">3</tspan></text>
<line x1="449.8" y1="677.6" x2="451.7" y2="677.6" stroke="#2a2a2a" stroke-width="0.8"/>
<line x1="448.3" y1="666.7" x2="451.7" y2="666.7" stroke="#2a2a2a" stroke-width="0.8"/>
<text class="s" x="446.1" y="670.6" font-size="11.3" text-anchor="end">3x10<tspan font-size="8.2" dy="-4.9">3</tspan></text>
<line x1="449.8" y1="655.8" x2="451.7" y2="655.8" stroke="#2a2a2a" stroke-width="0.8"/>
<line x1="448.3" y1="644.8" x2="451.7" y2="644.8" stroke="#2a2a2a" stroke-width="0.8"/>
<text class="s" x="446.1" y="648.7" font-size="11.3" text-anchor="end">4x10<tspan font-size="8.2" dy="-4.9">3</tspan></text>
<line x1="449.8" y1="633.9" x2="451.7" y2="633.9" stroke="#2a2a2a" stroke-width="0.8"/>
<line x1="448.3" y1="622.9" x2="451.7" y2="622.9" stroke="#2a2a2a" stroke-width="0.8"/>
<text class="s" x="446.1" y="626.8" font-size="11.3" text-anchor="end">5x10<tspan font-size="8.2" dy="-4.9">3</tspan></text>
<line x1="451.7" y1="732.4" x2="451.7" y2="733.9" stroke="#2a2a2a" stroke-width="0.8"/>
<line x1="505.6" y1="732.4" x2="505.6" y2="733.9" stroke="#2a2a2a" stroke-width="0.8"/>
<line x1="560.0" y1="732.4" x2="560.0" y2="733.9" stroke="#2a2a2a" stroke-width="0.8"/>
<line x1="614.3" y1="732.4" x2="614.3" y2="733.9" stroke="#2a2a2a" stroke-width="0.8"/>
<line x1="668.8" y1="732.4" x2="668.8" y2="733.9" stroke="#2a2a2a" stroke-width="0.8"/>
<line x1="478.4" y1="732.4" x2="478.4" y2="735.6" stroke="#2a2a2a" stroke-width="0.8"/>
<text class="s" x="478.4" y="746.7" font-size="11.3" letter-spacing="0.15" text-anchor="middle">444.5</text>
<line x1="533.0" y1="732.4" x2="533.0" y2="735.6" stroke="#2a2a2a" stroke-width="0.8"/>
<text class="s" x="533.0" y="746.7" font-size="11.3" letter-spacing="0.15" text-anchor="middle">445.0</text>
<line x1="587.5" y1="732.4" x2="587.5" y2="735.6" stroke="#2a2a2a" stroke-width="0.8"/>
<text class="s" x="587.5" y="746.7" font-size="11.3" letter-spacing="0.15" text-anchor="middle">445.5</text>
<line x1="641.4" y1="732.4" x2="641.4" y2="735.6" stroke="#2a2a2a" stroke-width="0.8"/>
<text class="s" x="641.4" y="746.7" font-size="11.3" letter-spacing="0.15" text-anchor="middle">446.0</text>
<text class="s" x="560.0" y="762.0" font-size="13.7" text-anchor="middle">m/z</text>
<text class="s" x="457.4" y="636.8" font-size="13.2" letter-spacing="0.15">MC_blank</text>
<line x1="505.6" y1="725.4" x2="505.6" y2="732.4" stroke="#2a2a2a" stroke-width="0.75"/>
<line x1="557.5" y1="724.7" x2="557.5" y2="732.4" stroke="#2a2a2a" stroke-width="0.75"/>
<line x1="559.6" y1="722.9" x2="559.6" y2="732.4" stroke="#2a2a2a" stroke-width="0.75"/>
<line x1="586.9" y1="730.4" x2="586.9" y2="732.4" stroke="#2a2a2a" stroke-width="0.75"/>
<line x1="613.9" y1="729.4" x2="613.9" y2="732.4" stroke="#2a2a2a" stroke-width="0.75"/>
<line x1="666.4" y1="729.0" x2="666.4" y2="732.4" stroke="#2a2a2a" stroke-width="0.75"/>
<line x1="668.5" y1="728.6" x2="668.5" y2="732.4" stroke="#2a2a2a" stroke-width="0.75"/>
<line x1="502.1" y1="730.2" x2="502.1" y2="732.4" stroke="#2a2a2a" stroke-width="0.75"/>
<line x1="497.8" y1="730.8" x2="497.8" y2="732.4" stroke="#2a2a2a" stroke-width="0.75"/>
<line x1="549.5" y1="730.6" x2="549.5" y2="732.4" stroke="#2a2a2a" stroke-width="0.75"/>
<rect x="410.2" y="870.5" width="272.7" height="157.0" fill="#d9d9d9"/>
<line x1="451.7" y1="883.9" x2="451.7" y2="993.9" stroke="#2a2a2a" stroke-width="0.8"/>
<line x1="451.7" y1="993.5" x2="668.8" y2="993.5" stroke="#2a2a2a" stroke-width="0.9"/>
<line x1="448.3" y1="993.5" x2="451.7" y2="993.5" stroke="#2a2a2a" stroke-width="0.8"/>
<text class="s" x="446.1" y="996.7" font-size="11.3" text-anchor="end">0</text>
<line x1="449.8" y1="982.6" x2="451.7" y2="982.6" stroke="#2a2a2a" stroke-width="0.8"/>
<line x1="448.3" y1="971.7" x2="451.7" y2="971.7" stroke="#2a2a2a" stroke-width="0.8"/>
<text class="s" x="446.1" y="976.1" font-size="11.3" text-anchor="end">1x10<tspan font-size="8.2" dy="-4.9">3</tspan></text>
<line x1="449.8" y1="960.7" x2="451.7" y2="960.7" stroke="#2a2a2a" stroke-width="0.8"/>
<line x1="448.3" y1="949.8" x2="451.7" y2="949.8" stroke="#2a2a2a" stroke-width="0.8"/>
<text class="s" x="446.1" y="954.2" font-size="11.3" text-anchor="end">2x10<tspan font-size="8.2" dy="-4.9">3</tspan></text>
<line x1="449.8" y1="938.9" x2="451.7" y2="938.9" stroke="#2a2a2a" stroke-width="0.8"/>
<line x1="448.3" y1="928.0" x2="451.7" y2="928.0" stroke="#2a2a2a" stroke-width="0.8"/>
<text class="s" x="446.1" y="932.4" font-size="11.3" text-anchor="end">3x10<tspan font-size="8.2" dy="-4.9">3</tspan></text>
<line x1="449.8" y1="917.1" x2="451.7" y2="917.1" stroke="#2a2a2a" stroke-width="0.8"/>
<line x1="448.3" y1="906.1" x2="451.7" y2="906.1" stroke="#2a2a2a" stroke-width="0.8"/>
<text class="s" x="446.1" y="910.5" font-size="11.3" text-anchor="end">4x10<tspan font-size="8.2" dy="-4.9">3</tspan></text>
<line x1="449.8" y1="895.2" x2="451.7" y2="895.2" stroke="#2a2a2a" stroke-width="0.8"/>
<line x1="448.3" y1="884.3" x2="451.7" y2="884.3" stroke="#2a2a2a" stroke-width="0.8"/>
<text class="s" x="446.1" y="888.7" font-size="11.3" text-anchor="end">5x10<tspan font-size="8.2" dy="-4.9">3</tspan></text>
<line x1="451.7" y1="993.5" x2="451.7" y2="995.0" stroke="#2a2a2a" stroke-width="0.8"/>
<line x1="505.6" y1="993.5" x2="505.6" y2="995.0" stroke="#2a2a2a" stroke-width="0.8"/>
<line x1="560.0" y1="993.5" x2="560.0" y2="995.0" stroke="#2a2a2a" stroke-width="0.8"/>
<line x1="614.3" y1="993.5" x2="614.3" y2="995.0" stroke="#2a2a2a" stroke-width="0.8"/>
<line x1="668.8" y1="993.5" x2="668.8" y2="995.0" stroke="#2a2a2a" stroke-width="0.8"/>
<line x1="478.4" y1="993.5" x2="478.4" y2="996.7" stroke="#2a2a2a" stroke-width="0.8"/>
<text class="s" x="478.4" y="1007.8" font-size="11.3" letter-spacing="0.15" text-anchor="middle">444.5</text>
<line x1="533.0" y1="993.5" x2="533.0" y2="996.7" stroke="#2a2a2a" stroke-width="0.8"/>
<text class="s" x="533.0" y="1007.8" font-size="11.3" letter-spacing="0.15" text-anchor="middle">445.0</text>
<line x1="587.5" y1="993.5" x2="587.5" y2="996.7" stroke="#2a2a2a" stroke-width="0.8"/>
<text class="s" x="587.5" y="1007.8" font-size="11.3" letter-spacing="0.15" text-anchor="middle">445.5</text>
<line x1="641.4" y1="993.5" x2="641.4" y2="996.7" stroke="#2a2a2a" stroke-width="0.8"/>
<text class="s" x="641.4" y="1007.8" font-size="11.3" letter-spacing="0.15" text-anchor="middle">446.0</text>
<text class="s" x="560.0" y="1023.1" font-size="13.7" text-anchor="middle">m/z</text>
<text class="s" x="457.4" y="898.8" font-size="13.2" letter-spacing="0.15">SC_mTG</text>
<line x1="505.8" y1="938.2" x2="505.8" y2="993.5" stroke="#2a2a2a" stroke-width="0.75"/>
<line x1="533.2" y1="942.7" x2="533.2" y2="993.5" stroke="#2a2a2a" stroke-width="0.75"/>
<line x1="560.1" y1="959.0" x2="560.1" y2="993.5" stroke="#2a2a2a" stroke-width="0.75"/>
<line x1="557.7" y1="962.1" x2="557.7" y2="993.5" stroke="#2a2a2a" stroke-width="0.75"/>
<line x1="587.5" y1="980.1" x2="587.5" y2="993.5" stroke="#2a2a2a" stroke-width="0.75"/>
<line x1="597.1" y1="989.3" x2="597.1" y2="993.5" stroke="#2a2a2a" stroke-width="0.75"/>
<line x1="614.4" y1="986.4" x2="614.4" y2="993.5" stroke="#2a2a2a" stroke-width="0.75"/>
<line x1="633.5" y1="991.1" x2="633.5" y2="993.5" stroke="#2a2a2a" stroke-width="0.75"/>
<line x1="666.4" y1="984.3" x2="666.4" y2="993.5" stroke="#2a2a2a" stroke-width="0.75"/>
<line x1="668.7" y1="991.4" x2="668.7" y2="993.5" stroke="#2a2a2a" stroke-width="0.75"/>
<line x1="497.8" y1="991.4" x2="497.8" y2="993.5" stroke="#2a2a2a" stroke-width="0.75"/>
<line x1="502.7" y1="991.0" x2="502.7" y2="993.5" stroke="#2a2a2a" stroke-width="0.75"/>
<line x1="510.9" y1="991.6" x2="510.9" y2="993.5" stroke="#2a2a2a" stroke-width="0.75"/>
<line x1="549.7" y1="991.6" x2="549.7" y2="993.5" stroke="#2a2a2a" stroke-width="0.75"/>
<line x1="563.0" y1="991.1" x2="563.0" y2="993.5" stroke="#2a2a2a" stroke-width="0.75"/>
<text class="s" x="509.8" y="926.0" font-size="11.3" letter-spacing="0.1" text-anchor="middle">444.7512</text>
<text class="s" x="536.3" y="939.1" font-size="11.3" letter-spacing="0.1" text-anchor="middle">445.0024</text>
<text class="s" x="564.2" y="957.5" font-size="11.3" letter-spacing="0.1" text-anchor="middle">445.2512</text>
<rect x="410.2" y="1037.1" width="272.7" height="156.6" fill="#dcdcff"/>
<line x1="451.7" y1="1050.0" x2="451.7" y2="1160.0" stroke="#2a2a2a" stroke-width="0.8"/>
<line x1="451.7" y1="1159.5" x2="668.8" y2="1159.5" stroke="#2a2a2a" stroke-width="0.9"/>
<line x1="448.3" y1="1159.5" x2="451.7" y2="1159.5" stroke="#2a2a2a" stroke-width="0.8"/>
<text class="s" x="446.1" y="1162.8" font-size="11.3" text-anchor="end">0</text>
<line x1="449.8" y1="1148.6" x2="451.7" y2="1148.6" stroke="#2a2a2a" stroke-width="0.8"/>
<line x1="448.3" y1="1137.7" x2="451.7" y2="1137.7" stroke="#2a2a2a" stroke-width="0.8"/>
<text class="s" x="446.1" y="1142.4" font-size="11.3" text-anchor="end">1x10<tspan font-size="8.2" dy="-4.9">3</tspan></text>
<line x1="449.8" y1="1126.8" x2="451.7" y2="1126.8" stroke="#2a2a2a" stroke-width="0.8"/>
<line x1="448.3" y1="1115.9" x2="451.7" y2="1115.9" stroke="#2a2a2a" stroke-width="0.8"/>
<text class="s" x="446.1" y="1120.6" font-size="11.3" text-anchor="end">2x10<tspan font-size="8.2" dy="-4.9">3</tspan></text>
<line x1="449.8" y1="1105.0" x2="451.7" y2="1105.0" stroke="#2a2a2a" stroke-width="0.8"/>
<line x1="448.3" y1="1094.1" x2="451.7" y2="1094.1" stroke="#2a2a2a" stroke-width="0.8"/>
<text class="s" x="446.1" y="1098.8" font-size="11.3" text-anchor="end">3x10<tspan font-size="8.2" dy="-4.9">3</tspan></text>
<line x1="449.8" y1="1083.1" x2="451.7" y2="1083.1" stroke="#2a2a2a" stroke-width="0.8"/>
<line x1="448.3" y1="1072.2" x2="451.7" y2="1072.2" stroke="#2a2a2a" stroke-width="0.8"/>
<text class="s" x="446.1" y="1076.9" font-size="11.3" text-anchor="end">4x10<tspan font-size="8.2" dy="-4.9">3</tspan></text>
<line x1="449.8" y1="1061.3" x2="451.7" y2="1061.3" stroke="#2a2a2a" stroke-width="0.8"/>
<line x1="448.3" y1="1050.4" x2="451.7" y2="1050.4" stroke="#2a2a2a" stroke-width="0.8"/>
<text class="s" x="446.1" y="1055.1" font-size="11.3" text-anchor="end">5x10<tspan font-size="8.2" dy="-4.9">3</tspan></text>
<line x1="451.7" y1="1159.5" x2="451.7" y2="1161.0" stroke="#2a2a2a" stroke-width="0.8"/>
<line x1="505.6" y1="1159.5" x2="505.6" y2="1161.0" stroke="#2a2a2a" stroke-width="0.8"/>
<line x1="560.0" y1="1159.5" x2="560.0" y2="1161.0" stroke="#2a2a2a" stroke-width="0.8"/>
<line x1="614.3" y1="1159.5" x2="614.3" y2="1161.0" stroke="#2a2a2a" stroke-width="0.8"/>
<line x1="668.8" y1="1159.5" x2="668.8" y2="1161.0" stroke="#2a2a2a" stroke-width="0.8"/>
<line x1="478.4" y1="1159.5" x2="478.4" y2="1162.8" stroke="#2a2a2a" stroke-width="0.8"/>
<text class="s" x="478.4" y="1173.8" font-size="11.3" letter-spacing="0.15" text-anchor="middle">444.5</text>
<line x1="533.0" y1="1159.5" x2="533.0" y2="1162.8" stroke="#2a2a2a" stroke-width="0.8"/>
<text class="s" x="533.0" y="1173.8" font-size="11.3" letter-spacing="0.15" text-anchor="middle">445.0</text>
<line x1="587.5" y1="1159.5" x2="587.5" y2="1162.8" stroke="#2a2a2a" stroke-width="0.8"/>
<text class="s" x="587.5" y="1173.8" font-size="11.3" letter-spacing="0.15" text-anchor="middle">445.5</text>
<line x1="641.4" y1="1159.5" x2="641.4" y2="1162.8" stroke="#2a2a2a" stroke-width="0.8"/>
<text class="s" x="641.4" y="1173.8" font-size="11.3" letter-spacing="0.15" text-anchor="middle">446.0</text>
<text class="s" x="560.0" y="1189.1" font-size="13.7" text-anchor="middle">m/z</text>
<text class="s" x="457.4" y="1065.3" font-size="13.2" letter-spacing="0.15">SC_blank</text>
<line x1="558.3" y1="1124.2" x2="558.3" y2="1159.5" stroke="#2a2a2a" stroke-width="0.75"/>
<line x1="505.6" y1="1152.8" x2="505.6" y2="1159.5" stroke="#2a2a2a" stroke-width="0.75"/>
<line x1="502.1" y1="1157.3" x2="502.1" y2="1159.5" stroke="#2a2a2a" stroke-width="0.75"/>
<line x1="597.1" y1="1154.4" x2="597.1" y2="1159.5" stroke="#2a2a2a" stroke-width="0.75"/>
<line x1="613.9" y1="1155.6" x2="613.9" y2="1159.5" stroke="#2a2a2a" stroke-width="0.75"/>
<line x1="633.1" y1="1156.4" x2="633.1" y2="1159.5" stroke="#2a2a2a" stroke-width="0.75"/>
<line x1="666.2" y1="1151.5" x2="666.2" y2="1159.5" stroke="#2a2a2a" stroke-width="0.75"/>
<line x1="668.7" y1="1153.6" x2="668.7" y2="1159.5" stroke="#2a2a2a" stroke-width="0.75"/>
<line x1="497.8" y1="1158.1" x2="497.8" y2="1159.5" stroke="#2a2a2a" stroke-width="0.75"/>
<line x1="549.5" y1="1158.3" x2="549.5" y2="1159.5" stroke="#2a2a2a" stroke-width="0.75"/>
<line x1="521.0" y1="1158.3" x2="521.0" y2="1159.5" stroke="#2a2a2a" stroke-width="0.75"/>
<line x1="552.6" y1="1158.4" x2="552.6" y2="1159.5" stroke="#2a2a2a" stroke-width="0.75"/>
<line x1="556.4" y1="1157.9" x2="556.4" y2="1159.5" stroke="#2a2a2a" stroke-width="0.75"/>
<line x1="562.7" y1="1157.8" x2="562.7" y2="1159.5" stroke="#2a2a2a" stroke-width="0.75"/>
</svg>
</body></html>
